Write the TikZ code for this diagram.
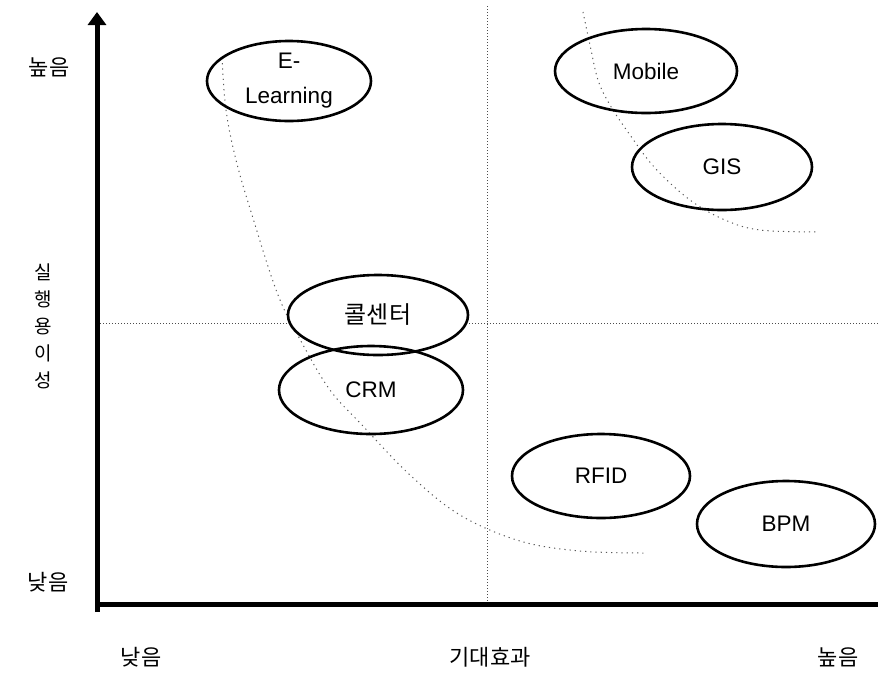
\documentclass[tikz,border=0pt]{standalone}
\usepackage{fontspec}
\setmainfont{Liberation Sans}
\newfontfamily\kr{Noto Sans CJK KR}
\usetikzlibrary{shapes.geometric,arrows.meta}
\tikzset{
  bubble/.style={ellipse, draw=black, line width=2.6pt, inner sep=0pt, align=center,
    font=\fontsize{22.5}{35}\selectfont},
  axisline/.style={line width=5pt, black},
  guide/.style={black!70, line width=0.9pt, dash pattern=on 1pt off 2pt},
  trend/.style={black!65, line width=1pt, dash pattern=on 1.2pt off 4pt},
  krlabel/.style={font=\kr\fontsize{22}{26}\selectfont, inner sep=0pt},
}
\begin{document}
\begin{tikzpicture}[x=1pt,y=-1pt]
\useasboundingbox (0,0) rectangle (878,675);
% guides
\coordinate (vtop) at (487,6);
\coordinate (vbot) at (487,604);
\coordinate (hleft) at (100,323);
\coordinate (hright) at (878,323);
\draw[guide] (vtop) -- (vbot);
\draw[guide] (hleft) -- (hright);
% trend curves
\draw[trend] plot[smooth, tension=0.6] coordinates {(222,58) (226,110) (236,160) (252,215) (278,295) (302,343) (330,390) (362,425) (410,475) (460,515) (520,541) (580,551) (645,553)};
\draw[trend] plot[smooth, tension=0.6] coordinates {(583,12) (590,45) (598,80) (610,105) (630,135) (655,168) (690,200) (725,220) (760,230) (818,232)};
% axes
\coordinate (origin) at (97,612);
\coordinate (ytip) at (97,12);
\coordinate (xend) at (878,604);
\coordinate (xstart) at (95,604);
\draw[axisline] (xstart) -- (xend);
\draw[axisline, -{Triangle[length=13pt,width=18pt]}] (origin) -- (ytip);
% bubbles
\node[bubble, minimum width=164pt, minimum height=80pt] (elearn) at (289,81) {E-\\Learning};
\node[bubble, minimum width=182pt, minimum height=84pt] (mobile) at (646,71) {Mobile};
\node[bubble, minimum width=180pt, minimum height=86pt] (gis) at (722,167) {GIS};
\node[bubble, fill=white, minimum width=180pt, minimum height=80pt, font=\kr\fontsize{24}{28}\selectfont] (call) at (378,315) {콜센터};
\node[bubble, minimum width=184pt, minimum height=88pt] (crm) at (371,390) {CRM};
\node[bubble, minimum width=178pt, minimum height=84pt] (rfid) at (601,476) {RFID};
\node[bubble, minimum width=178pt, minimum height=86pt] (bpm) at (786,524) {BPM};
% axis labels
\node[krlabel] (yhigh) at (49,67) {높음};
\node[krlabel, align=center, font=\kr\fontsize{19}{27}\selectfont] (ytitle) at (43,326) {실\\행\\용\\이\\성};
\node[krlabel] (ylow) at (48,582) {낮음};
\node[krlabel] (xlow) at (141,657) {낮음};
\node[krlabel] (xtitle) at (490,657) {기대효과};
\node[krlabel] (xhigh) at (838,657) {높음};
\end{tikzpicture}
\end{document}
